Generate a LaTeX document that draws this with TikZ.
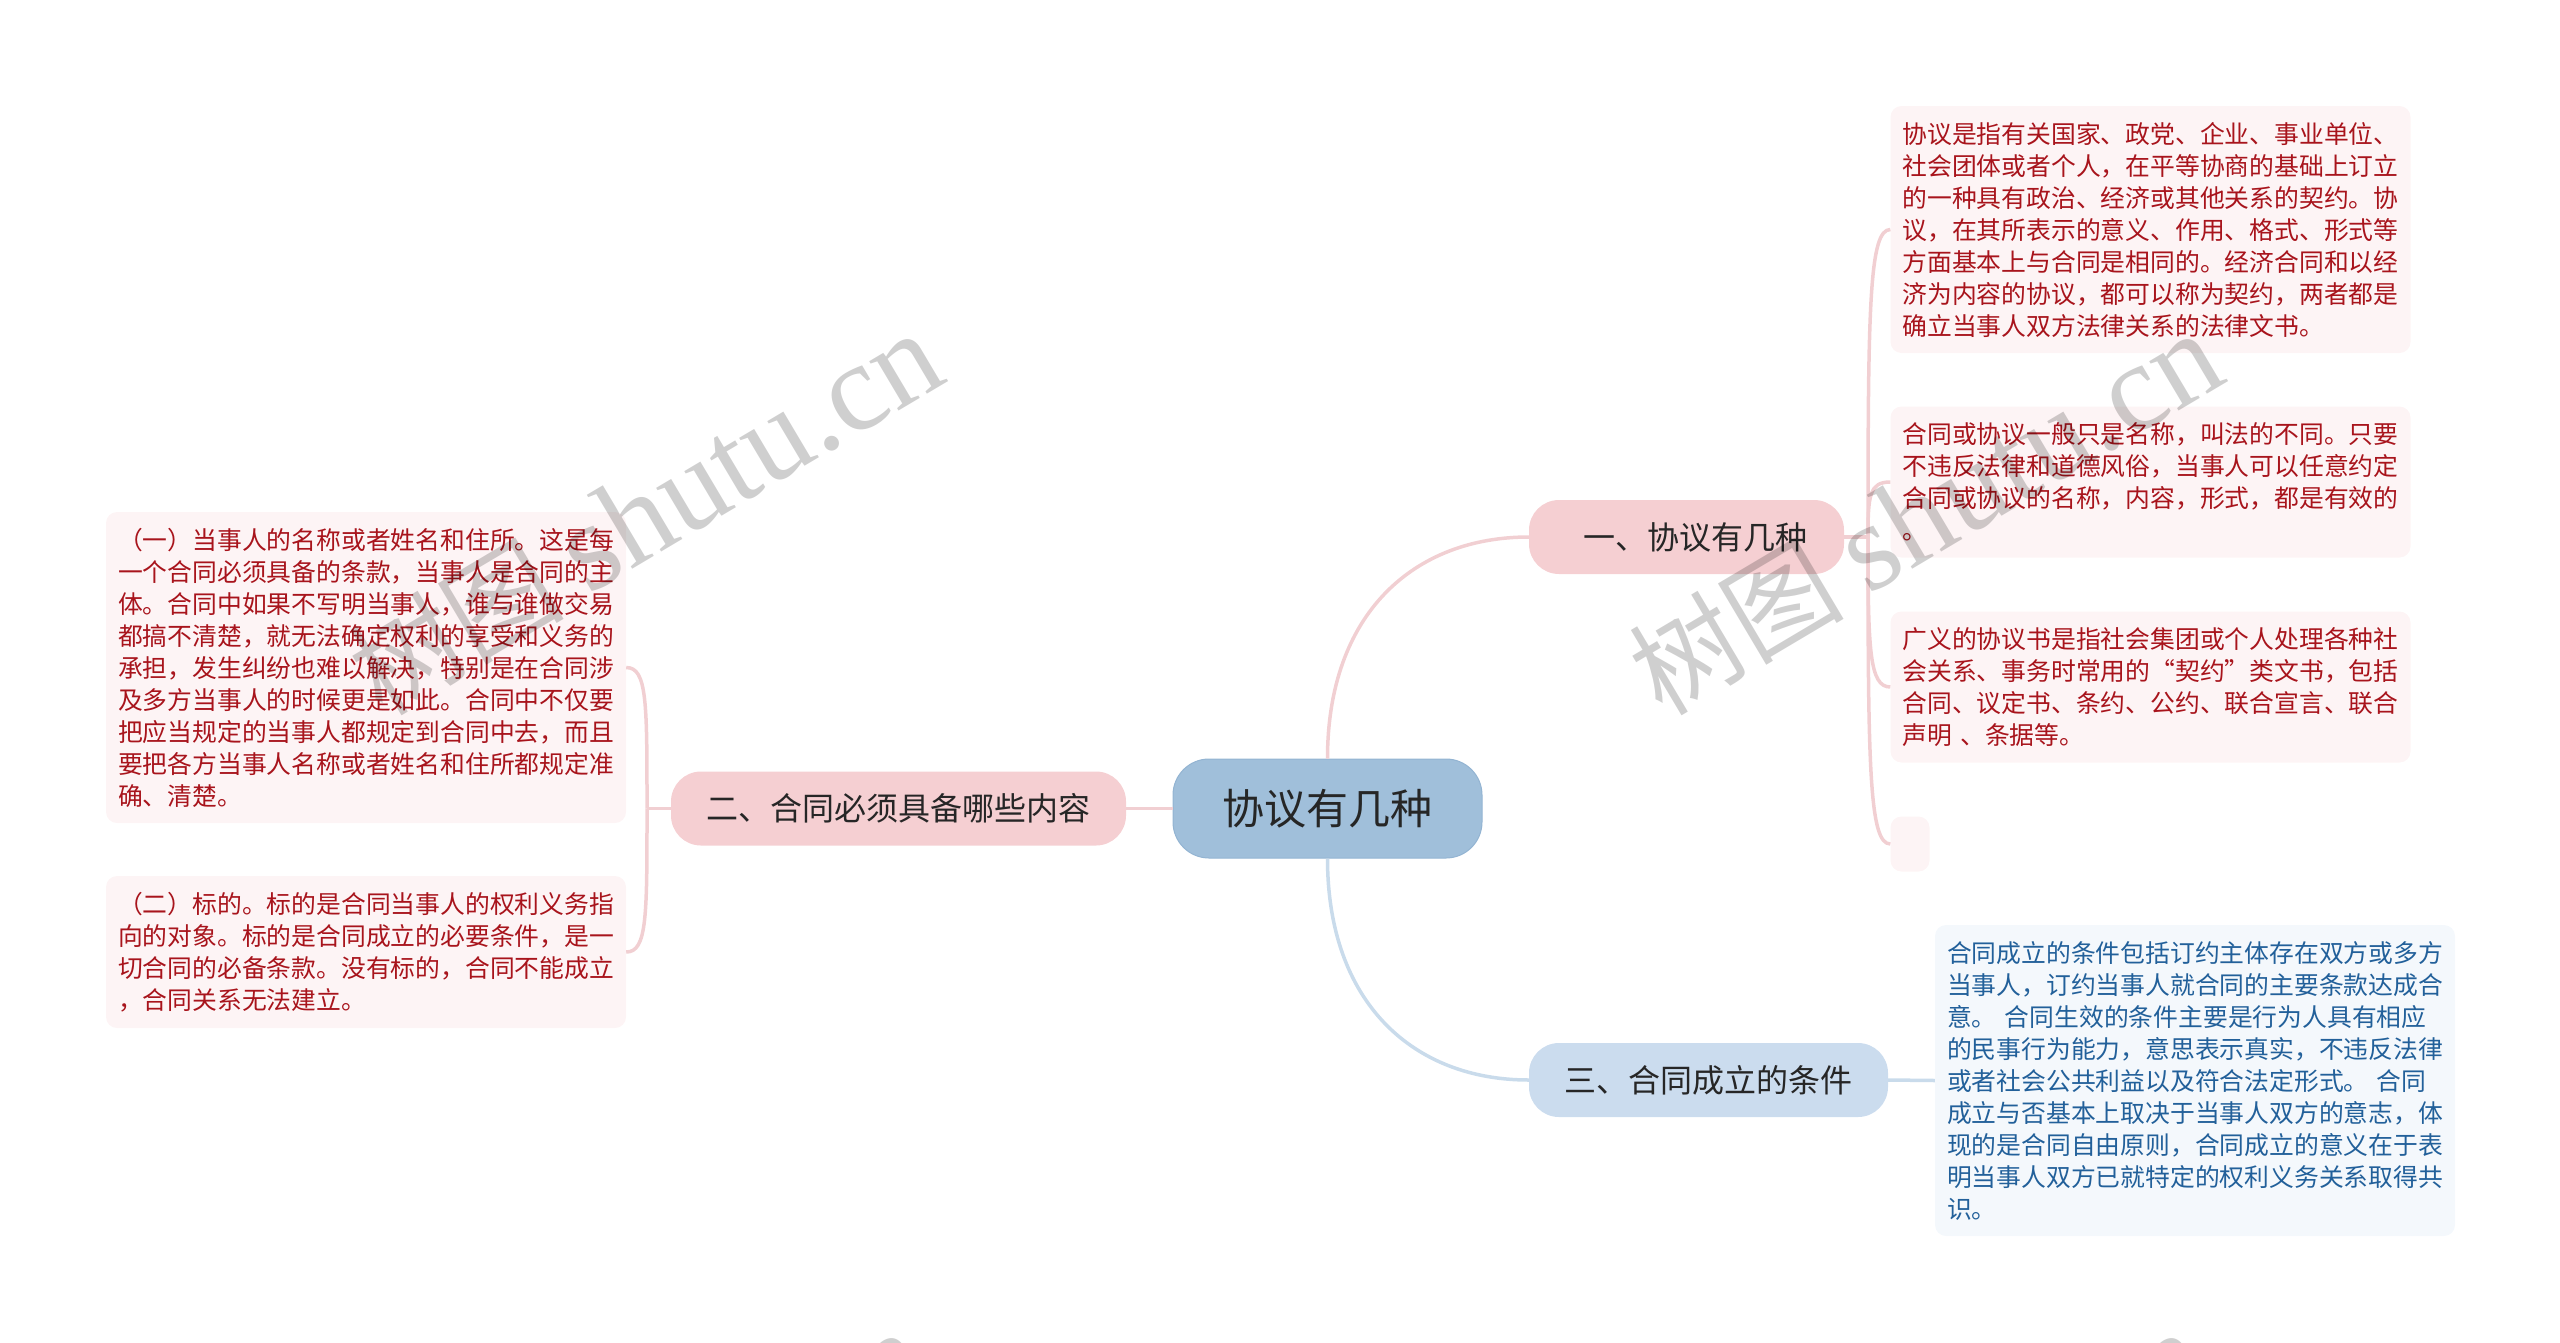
\documentclass[tikz,border=0pt]{standalone}
\usepackage{fontspec}
\setmainfont{Noto Sans CJK SC}
\newfontfamily\latinmark{Liberation Serif}
\usetikzlibrary{positioning, calc}
\definecolor{topicblue}{HTML}{A0BFDA}
\definecolor{topicline}{HTML}{93B4D2}
\definecolor{branchpink}{HTML}{F5CFD2}
\definecolor{branchblue}{HTML}{CBDCEE}
\definecolor{linkpink}{HTML}{F1CFD2}
\definecolor{linkblue}{HTML}{C9DBEB}
\definecolor{notepinkbg}{HTML}{FDF4F5}
\definecolor{noteblubg}{HTML}{F4F8FC}
\definecolor{notered}{HTML}{A8141C}
\definecolor{noteblue}{HTML}{22609A}
\tikzset{
	topicnode/.style={fill=topicblue, draw=topicline, line width=1pt, rounded corners=36pt, text=black!85, font=\fontsize{42}{50}\selectfont, minimum width=309pt, minimum height=99pt, inner sep=0pt},
	branchnode/.style={rounded corners=30pt, text=black!85, font=\fontsize{32}{38}\selectfont, minimum height=74pt, inner sep=0pt},
	notebox/.style={rounded corners=11pt, inner sep=0pt},
	notetext/.style={notebox, font=\fontsize{24.8}{32}\selectfont, align=left, text width=496pt, inner xsep=12pt},
	linkp/.style={draw=linkpink, line width=3.5pt},
	linkb/.style={draw=linkblue, line width=3.5pt},
	wmark/.style={rotate=30.7, text=black, text opacity=0.19}
}
\begin{document}
\begin{tikzpicture}[x=1pt, y=-1pt]
	\useasboundingbox (0,0) rectangle (2560,1342);
	
	% Nodes
	\node[topicnode] (root) at (1327.5,808.5) {协议有几种};
	\node[branchnode, fill=branchpink, minimum width=315pt] (one) at (1686.5,537) {\hspace*{17pt}一、协议有几种};
	\node[branchnode, fill=branchpink, minimum width=455pt] (two) at (898.5,808.5) {二、合同必须具备哪些内容};
	\node[branchnode, fill=branchblue, minimum width=359pt] (three) at (1708.5,1080) {三、合同成立的条件};
	
	% Notes of the first branch
	\node[notetext, fill=notepinkbg, text=notered, minimum height=247pt] (def) at (2150.5,229.5) {协议是指有关国家、政党、企业、事业单位、\\社会团体或者个人，在平等协商的基础上订立\\的一种具有政治、经济或其他关系的契约。协\\议，在其所表示的意义、作用、格式、形式等\\方面基本上与合同是相同的。经济合同和以经\\济为内容的协议，都可以称为契约，两者都是\\确立当事人双方法律关系的法律文书。};
	\node[notetext, fill=notepinkbg, text=notered, minimum height=151pt] (name) at (2150.5,482) {合同或协议一般只是名称，叫法的不同。只要\\不违反法律和道德风俗，当事人可以任意约定\\合同或协议的名称，内容，形式，都是有效的\\。};
	\node[notetext, fill=notepinkbg, text=notered, minimum height=151pt] (broad) at (2150.5,687) {广义的协议书是指社会集团或个人处理各种社\\会关系、事务时常用的“契约”类文书，包括\\合同、议定书、条约、公约、联合宣言、联合\\声明 、条据等。};
	\node[notebox, fill=notepinkbg, minimum width=39pt, minimum height=55pt] (blank) at (1910,844) {};
	
	% Notes of the second branch
	\node[notetext, fill=notepinkbg, text=notered, minimum height=311pt] (party) at (366,667.5) {（一）当事人的名称或者姓名和住所。这是每\\一个合同必须具备的条款，当事人是合同的主\\体。合同中如果不写明当事人，谁与谁做交易\\都搞不清楚，就无法确定权利的享受和义务的\\承担，发生纠纷也难以解决，特别是在合同涉\\及多方当事人的时候更是如此。合同中不仅要\\把应当规定的当事人都规定到合同中去，而且\\要把各方当事人名称或者姓名和住所都规定准\\确、清楚。};
	\node[notetext, fill=notepinkbg, text=notered, minimum height=152pt] (object) at (366,952) {（二）标的。标的是合同当事人的权利义务指\\向的对象。标的是合同成立的必要条件，是一\\切合同的必备条款。没有标的，合同不能成立\\，合同关系无法建立。};
	
	% Note of the third branch
	\node[notetext, fill=noteblubg, text=noteblue, minimum height=311pt] (cond) at (2195,1080.5) {合同成立的条件包括订约主体存在双方或多方\\当事人，订约当事人就合同的主要条款达成合\\意。 合同生效的条件主要是行为人具有相应\\的民事行为能力，意思表示真实，不违反法律\\或者社会公共利益以及符合法定形式。 合同\\成立与否基本上取决于当事人双方的意志，体\\现的是合同自由原则，合同成立的意义在于表\\明当事人双方已就特定的权利义务关系取得共\\识。};
	
	% Connectors
	\coordinate (spineone) at (1868,537);
	\coordinate (spinetwo) at (647,808.5);
	\draw[linkp] (root.north) .. controls +(0,-145) and +(-115,0) .. (one.west);
	\draw[linkb] (root.south) .. controls +(0,145) and +(-115,0) .. (three.west);
	\draw[linkp] (root.west) -- (two.east);
	\draw[linkb] (three.east) -- (cond.west);
	
	\draw[linkp] (one.east) -- (spineone);
	\foreach \target in {def,name,broad,blank}
		\draw[linkp] (spineone) .. controls ($(spineone)!0.75!(spineone |- \target.west)$) and ($(\target.west)+(-21,0)$) .. (\target.west);
	\draw[linkp] (two.west) -- (spinetwo);
	\foreach \target in {party,object}
		\draw[linkp] (spinetwo) .. controls ($(spinetwo)!0.75!(spinetwo |- \target.east)$) and ($(\target.east)+(21,0)$) .. (\target.east);
	
	% Watermark
	\foreach \i/\mx/\my in {a/645/514, b/1925/514, c/629/1513, d/1909/1513}
		\node[wmark] (mark\i) at (\mx,\my) {\fontsize{108}{120}\selectfont 树图 \latinmark\fontsize{125}{130}\selectfont shutu.cn};
\end{tikzpicture}
\end{document}
